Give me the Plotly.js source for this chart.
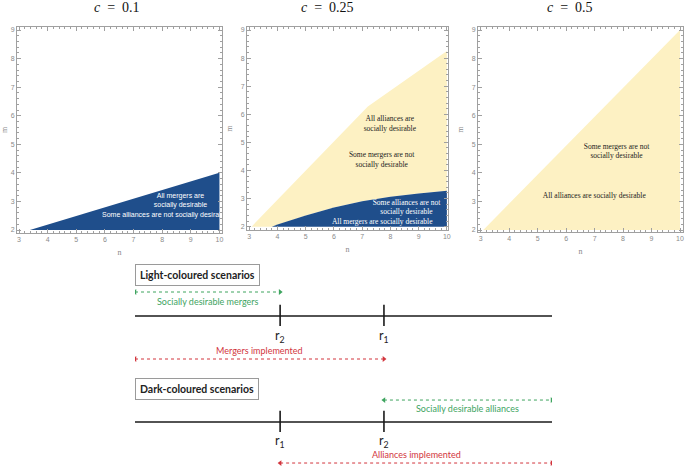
<!DOCTYPE html>
<html>
<head>
<meta charset="utf-8">
<script src="https://cdn.plot.ly/plotly-3.0.1.min.js"></script>
<style>html,body{margin:0;padding:0;background:#fff;}#chart{width:685px;height:467px;}</style>
</head>
<body>
<div id="chart"></div>
<script>
// ---------- data ----------
const panelTitles = ['0.1', '0.25', '0.5'];
// c = 0.1 : dark region
const p1BlueN = [3.38, 10, 10];
const p1BlueM = [2, 4, 2];
// c = 0.25 : upper boundary of light region and boundary between light/dark
const p2UpperN = [3.08, 7.2, 10];
const p2UpperM = [2, 6.28, 8.25];
const p2CurveN = [3.8, 4, 5, 6, 7, 8, 9, 10];
const p2CurveM = [2, 2.08, 2.4, 2.68, 2.9, 3.06, 3.18, 3.28];
// c = 0.5 : light region
const p3YellowN = [3.09, 10, 10];
const p3YellowM = [2, 9, 2];
// region labels
const p1Labels = ['All mergers are<br>socially desirable', 'Some alliances are not socially desirable'];
const p2Labels = ['All alliances are<br>socially desirable', 'Some mergers are not<br>socially desirable',
                  'Some alliances are not<br>socially desirable', 'All mergers are socially desirable'];
const p3Labels = ['Some mergers are not<br>socially desirable', 'All alliances are socially desirable'];
// schematic timelines
const lightR = [3.48, 5.97];           // r2, r1
const lightRLabels = ['r<sub>2</sub>', 'r<sub>1</sub>'];
const darkR = [3.48, 5.97];            // r1, r2
const darkRLabels = ['r<sub>1</sub>', 'r<sub>2</sub>'];
const lineExtent = [0, 10];

// ---------- styles ----------
const BLUE = '#1f4e8b', YELLOW = '#fdf1c3', GREEN = '#3ea45f', RED = '#d2353d', FRAME = '#a0a0a0';
const W = 685, H = 467;
const fx = p => p / W, fy = p => 1 - p / H;

function frameAxis(range, domain, anchor, title) {
  return {
    range: range, domain: domain, anchor: anchor,
    showgrid: false, zeroline: false, showline: true, linecolor: FRAME, linewidth: 1,
    mirror: 'allticks', ticks: 'inside', ticklen: 4, tickcolor: FRAME, tickwidth: 1,
    tick0: 0, dtick: 1,
    tickfont: {size: 7, color: '#8a8a8a', family: 'Liberation Sans'},
    minor: {ticks: 'inside', ticklen: 2, dtick: 0.2, tick0: 0, tickcolor: FRAME, showgrid: false},
    title: {text: title, font: {size: 8, color: '#8a8a8a', family: 'Liberation Serif'}, standoff: 6},
    fixedrange: true
  };
}

function fillTrace(xs, ys, color, xa, ya) {
  return {x: xs, y: ys, xaxis: xa, yaxis: ya, type: 'scatter', mode: 'lines', fill: 'toself',
          fillcolor: color, line: {width: 0, color: color}, hoverinfo: 'skip'};
}
function textTrace(xs, ys, texts, color, family, size, xa, ya, pos) {
  return {x: xs, y: ys, text: texts, xaxis: xa, yaxis: ya, type: 'scatter', mode: 'text',
          textposition: pos || 'middle center', cliponaxis: true,
          textfont: {color: color, family: family, size: size}, hoverinfo: 'skip'};
}

const traces = [];
// Panel 1
traces.push(fillTrace(p1BlueN, p1BlueM, BLUE, 'x', 'y'));
traces.push(textTrace([8.64], [3.03], [p1Labels[0]], '#ffffff', 'Liberation Sans', 7, 'x', 'y'));
traces.push(textTrace([5.9], [2.51], [p1Labels[1]], '#ffffff', 'Liberation Sans', 7, 'x', 'y', 'middle right'));
// Panel 2
traces.push(fillTrace(p2UpperN.concat(p2CurveN.slice().reverse()),
                      p2UpperM.concat(p2CurveM.slice().reverse()), YELLOW, 'x2', 'y2'));
traces.push(fillTrace(p2CurveN.concat([p2CurveN[p2CurveN.length - 1]]),
                      p2CurveM.concat([p2CurveM[0]]), BLUE, 'x2', 'y2'));
traces.push(textTrace([7.98, 7.69], [5.66, 4.38], [p2Labels[0], p2Labels[1]], '#222', 'Liberation Serif', 7.5, 'x2', 'y2'));
traces.push(textTrace([8.57, 7.71], [2.68, 2.15], [p2Labels[2], p2Labels[3]], '#ffffff', 'Liberation Serif', 7.5, 'x2', 'y2'));
// Panel 3
traces.push(fillTrace(p3YellowN, p3YellowM, YELLOW, 'x3', 'y3'));
traces.push(textTrace([7.77, 6.99], [4.74, 3.19], p3Labels, '#222', 'Liberation Serif', 7.5, 'x3', 'y3'));

// Schematic (x4/y4) : light line at y=1, dark at y=0
function timeline(level, rs) {
  traces.push({x: lineExtent, y: [level, level], xaxis: 'x4', yaxis: 'y4', type: 'scatter', mode: 'lines',
               line: {color: '#1a1a1a', width: 1.6}, hoverinfo: 'skip'});
  const tx = [], ty = [];
  rs.forEach(r => { tx.push(r, r, null); ty.push(level - 0.095, level + 0.105, null); });
  traces.push({x: tx, y: ty, xaxis: 'x4', yaxis: 'y4', type: 'scatter', mode: 'lines',
               line: {color: '#1a1a1a', width: 1.6}, hoverinfo: 'skip'});
}
function arrow(x0, x1, yv, color) {
  traces.push({x: [x0, x1], y: [yv, yv], xaxis: 'x4', yaxis: 'y4', type: 'scatter', mode: 'lines+markers',
               line: {color: color, width: 1, dash: 'dot'},
               marker: {symbol: ['triangle-left', 'triangle-right'], size: 5, color: color},
               hoverinfo: 'skip'});
}
timeline(1, lightR);
timeline(0, darkR);
arrow(lineExtent[0], lightR[0], 1.226, GREEN);
arrow(lineExtent[0], lightR[1], 1 - 0.406, RED);
arrow(darkR[1], lineExtent[1], 0.207, GREEN);
arrow(darkR[0], lineExtent[1], -0.387, RED);

const annotations = [];
// Panel titles
[117, 327, 570].forEach((px, i) => {
  annotations.push({xref: 'paper', yref: 'paper', x: fx(px), y: fy(7), xanchor: 'center', yanchor: 'middle',
    showarrow: false, text: '<i>c</i>\u2002=\u2002' + panelTitles[i],
    font: {family: 'Liberation Serif', size: 14, color: '#111'}});
});
// Schematic labels
const sFont = {family: 'Lato', size: 9};
function sText(x, y, text, color, extra) {
  annotations.push(Object.assign({xref: 'x4', yref: 'y4', x: x, y: y, showarrow: false, text: text,
    font: Object.assign({}, sFont, {color: color})}, extra || {}));
}
const boxStyle = {xanchor: 'left', bordercolor: '#9a9a9a', borderwidth: 1, borderpad: 4,
                  font: {family: 'Lato', size: 10.5, color: '#222'}};
sText(lineExtent[0], 1.387, '<b>Light-coloured scenarios</b>', '#222', boxStyle);
sText(lineExtent[0], 0.311, '<b>Dark-coloured scenarios</b>', '#222', boxStyle);
sText((lineExtent[0] + lightR[0]) / 2, 1.132, 'Socially desirable mergers', GREEN);
sText((lineExtent[0] + lightR[1]) / 2, 1 - 0.33, 'Mergers implemented', RED);
sText((darkR[1] + lineExtent[1]) / 2, 0.123, 'Socially desirable alliances', GREEN);
sText((darkR[0] + lineExtent[1]) / 2, -0.31, 'Alliances implemented', RED);
const rFont = {family: 'Lato', size: 12.5, color: '#222'};
lightR.forEach((r, i) => sText(r, 1 - 0.19, lightRLabels[i], '#222', {font: rFont}));
darkR.forEach((r, i) => sText(r, -0.18, darkRLabels[i], '#222', {font: rFont}));

const hidden = {visible: false, fixedrange: true, showgrid: false, zeroline: false};
const layout = {
  width: W, height: H, margin: {l: 0, r: 0, t: 0, b: 0},
  paper_bgcolor: '#fff', plot_bgcolor: '#fff', showlegend: false,
  xaxis: frameAxis([2.93, 10.09], [fx(17), fx(222)], 'y', 'n'),
  yaxis: frameAxis([1.895, 9.105], [fy(233), fy(27)], 'x', 'm'),
  xaxis2: frameAxis([2.92, 10.04], [fx(247), fx(448)], 'y2', 'n'),
  yaxis2: frameAxis([1.88, 9.107], [fy(230), fy(27)], 'x2', 'm'),
  xaxis3: frameAxis([2.905, 10.105], [fx(478), fx(683)], 'y3', 'n'),
  yaxis3: frameAxis([1.93, 9.105], [fy(232), fy(27)], 'x3', 'm'),
  xaxis4: Object.assign({range: [0, 10], domain: [fx(135), fx(552)], anchor: 'y4'}, hidden),
  yaxis4: Object.assign({range: [-0.4245, 1.509], domain: [0, fy(262)], anchor: 'x4'}, hidden),
  annotations: annotations
};
Plotly.newPlot('chart', traces, layout, {staticPlot: true, displayModeBar: false});
</script>
</body>
</html>
